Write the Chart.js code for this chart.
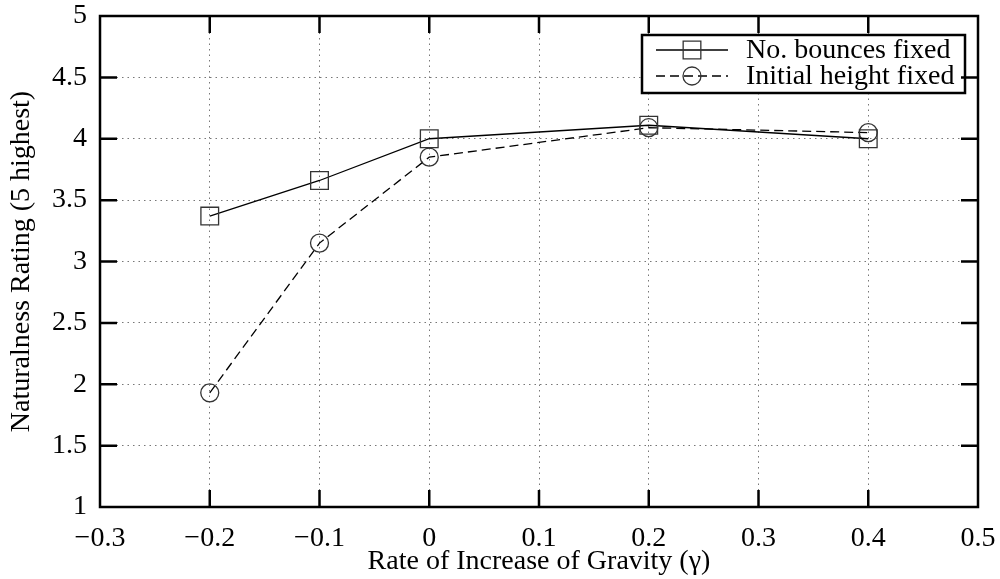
<!DOCTYPE html>
<html>
<head>
<meta charset="utf-8">
<script src="https://cdn.jsdelivr.net/npm/chart.js@4.4.1/dist/chart.umd.min.js"></script>
<style>
    body { margin: 0; background: #fff; }
    canvas { display: block; }
</style>
</head>
<body>
<canvas id="chart" width="1000" height="579"></canvas>
<script>
// rate of increase of gravity (gamma)
const gammaValues = [-0.2, -0.1, 0, 0.2, 0.4];
const bouncesFixed = [3.37, 3.66, 4.0, 4.11, 4.0];
const heightFixed = [1.93, 3.15, 3.85, 4.09, 4.05];
const seriesLabels = ["No. bounces fixed", "Initial height fixed"];
const xTicks = [-0.3, -0.2, -0.1, 0, 0.1, 0.2, 0.3, 0.4, 0.5];
const yTicks = [1, 1.5, 2, 2.5, 3, 3.5, 4, 4.5, 5];

const FONT = "'Liberation Serif', 'Times New Roman', serif";
const FONT_SIZE = 28;

function to_points(xs, ys) {
    return xs.map((x, i) => ({ x: x, y: ys[i] }));
}

function fmt_tick(value) {
    let s = String(Number(value.toFixed(2)));
    return s.replace("-", "\u2212");
}

function set_ticks(list) {
    return function (scale) {
        scale.ticks = list.map(v => ({ value: v }));
    };
}

const frameAndLegend = {
    id: "frameAndLegend",
    afterDatasetsDraw(chart) {
        let ctx = chart.ctx;
        let area = chart.chartArea;
        let xs = chart.scales.x;
        let ys = chart.scales.y;
        let tick = 17;
        ctx.save();

        // legend box
        let w = 323, h = 58;
        let bx = area.right - 13 - w;
        let by = area.top + 19;
        ctx.fillStyle = "#fff";
        ctx.fillRect(bx, by, w, h);
        ctx.lineWidth = 2.5;
        ctx.strokeStyle = "#000";
        ctx.strokeRect(bx, by, w, h);

        chart.data.datasets.forEach((ds, i) => {
            let cy = by + 15 + i * 26;
            ctx.save();
            ctx.strokeStyle = ds.borderColor;
            ctx.lineWidth = ds.borderWidth;
            ctx.setLineDash(ds.borderDash || []);
            ctx.beginPath();
            ctx.moveTo(bx + 14, cy);
            ctx.lineTo(bx + 86, cy);
            ctx.stroke();
            ctx.restore();
            ctx.save();
            ctx.strokeStyle = ds.pointBorderColor;
            ctx.fillStyle = "rgba(0,0,0,0)";
            ctx.lineWidth = ds.pointBorderWidth;
            Chart.helpers.drawPoint(ctx, { pointStyle: ds.pointStyle, radius: ds.pointRadius, borderWidth: ds.pointBorderWidth }, bx + 50, cy);
            ctx.restore();
            ctx.fillStyle = "#000";
            ctx.font = FONT_SIZE + "px " + FONT;
            ctx.textBaseline = "middle";
            ctx.textAlign = "left";
            ctx.fillText(ds.label, bx + 104, cy + 1);
        });

        // frame and inward ticks
        ctx.strokeStyle = "#000";
        ctx.lineWidth = 2.5;
        ctx.setLineDash([]);
        ctx.strokeRect(area.left, area.top, area.right - area.left, area.bottom - area.top);
        ctx.beginPath();
        xTicks.slice(1, -1).forEach(v => {
            let px = xs.getPixelForValue(v);
            ctx.moveTo(px, area.bottom);
            ctx.lineTo(px, area.bottom - tick);
            ctx.moveTo(px, area.top);
            ctx.lineTo(px, area.top + tick);
        });
        yTicks.slice(1, -1).forEach(v => {
            let py = ys.getPixelForValue(v);
            ctx.moveTo(area.left, py);
            ctx.lineTo(area.left + tick, py);
            ctx.moveTo(area.right, py);
            ctx.lineTo(area.right - tick, py);
        });
        ctx.stroke();
        ctx.restore();
    }
};

let chart = new Chart(document.getElementById("chart"), {
    type: "scatter",
    data: {
        datasets: [
            {
                label: seriesLabels[0],
                data: to_points(gammaValues, bouncesFixed),
                showLine: true,
                borderColor: "#000",
                borderWidth: 1.3,
                pointStyle: "rect",
                pointRadius: 12.5,
                pointHoverRadius: 12.5,
                pointBorderColor: "#333",
                pointBorderWidth: 1.3,
                pointBackgroundColor: "rgba(0,0,0,0)"
            },
            {
                label: seriesLabels[1],
                data: to_points(gammaValues, heightFixed),
                showLine: true,
                borderColor: "#000",
                borderWidth: 1.3,
                borderDash: [9, 5],
                pointStyle: "circle",
                pointRadius: 9,
                pointHoverRadius: 9,
                pointBorderColor: "#333",
                pointBorderWidth: 1.3,
                pointBackgroundColor: "rgba(0,0,0,0)"
            }
        ]
    },
    options: {
        responsive: false,
        animation: false,
        layout: { padding: { top: 16, right: 22, left: 0, bottom: 0 } },
        plugins: {
            legend: { display: false },
            tooltip: { enabled: false }
        },
        scales: {
            x: {
                type: "linear",
                min: -0.3,
                max: 0.5,
                afterBuildTicks: set_ticks(xTicks),
                afterFit: s => { s.height = 72; s.paddingLeft = 0; s.paddingRight = 0; },
                border: { display: false, dash: [1.5, 4] },
                grid: { color: "#777", lineWidth: 1, drawTicks: false },
                ticks: {
                    color: "#000",
                    padding: 15,
                    maxRotation: 0,
                    font: { family: FONT, size: FONT_SIZE },
                    callback: v => fmt_tick(v)
                },
                title: {
                    display: true,
                    text: "Rate of Increase of Gravity (\u03b3)",
                    color: "#000",
                    font: { family: FONT, size: FONT_SIZE },
                    padding: { top: 0, bottom: 1 }
                }
            },
            y: {
                min: 1,
                max: 5,
                afterBuildTicks: set_ticks(yTicks),
                afterFit: s => { s.width = 100; s.paddingTop = 0; s.paddingBottom = 0; },
                border: { display: false, dash: [1.5, 4] },
                grid: { color: "#777", lineWidth: 1, drawTicks: false },
                ticks: {
                    color: "#000",
                    padding: 13,
                    font: { family: FONT, size: FONT_SIZE },
                    callback: v => fmt_tick(v)
                },
                title: {
                    display: true,
                    text: "Naturalness Rating (5 highest)",
                    color: "#000",
                    font: { family: FONT, size: FONT_SIZE },
                    padding: { top: 5, bottom: 0 }
                }
            }
        }
    },
    plugins: [frameAndLegend]
});
</script>
</body>
</html>
